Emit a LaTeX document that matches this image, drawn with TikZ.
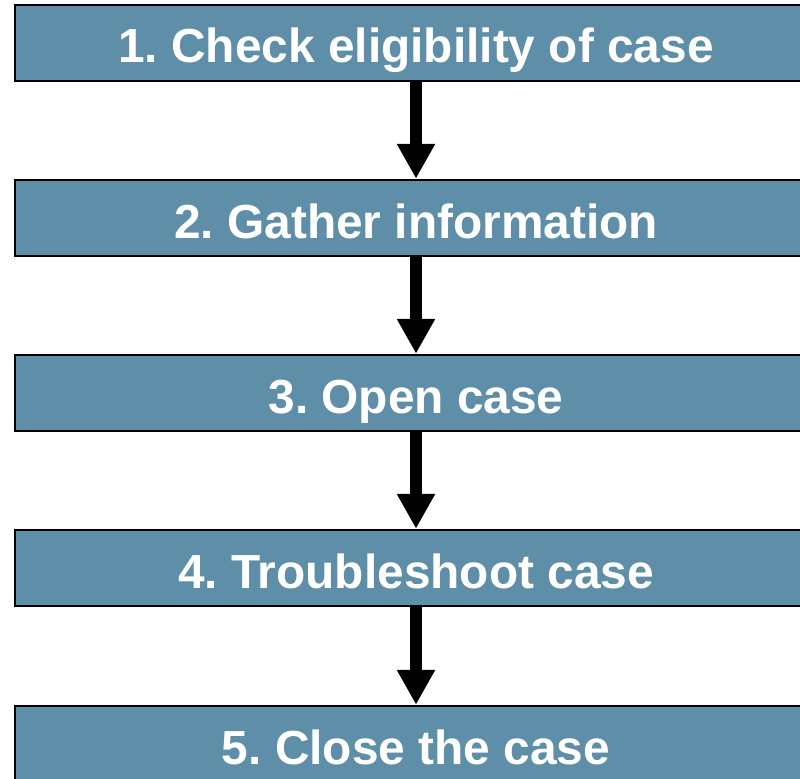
\documentclass[tikz,border=0pt]{standalone}
\usepackage{fontspec}
\setmainfont{Liberation Sans}
\usetikzlibrary{arrows.meta}
\definecolor{stepblue}{RGB}{95,142,168}
\frenchspacing

\begin{document}
\begin{tikzpicture}[x=1bp,y=-1bp,
    stepbox/.style={draw=black,line width=2.5bp,fill=stepblue,text=white,
        minimum width=802bp,minimum height=76bp,inner sep=0pt,
        text height=40bp,text depth=0pt,
        font=\fontsize{48}{56}\selectfont\bfseries},
    flow/.style={line width=12bp,-{Triangle[width=36bp,length=35bp]}}]
    \useasboundingbox (0,0) rectangle (800,779);

    \node[stepbox] (check) at (416,43) {1. Check eligibility of case};
    \node[stepbox] (gather) at (416,218) {2. Gather information};
    \node[stepbox] (open) at (416,393) {3. Open case};
    \node[stepbox] (trouble) at (416,568) {4. Troubleshoot case};
    \node[stepbox] (close) at (416,744) {5. Close the case};

    \draw[flow] (check.south) -- (gather.north);
    \draw[flow] (gather.south) -- (open.north);
    \draw[flow] (open.south) -- (trouble.north);
    \draw[flow] (trouble.south) -- (close.north);
\end{tikzpicture}
\end{document}
